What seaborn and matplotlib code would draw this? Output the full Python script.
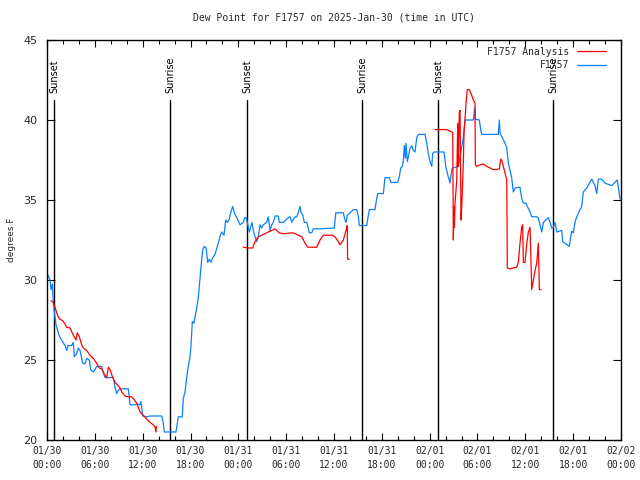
import numpy as np
import pandas as pd
import seaborn as sns
import matplotlib.pyplot as plt
from matplotlib.lines import Line2D
from matplotlib.ticker import MultipleLocator

# Hours since 2025-01-30 00:00 UTC and dew point (deg F)
obs_hours = [0.13, 0.38, 0.50, 0.66, 0.79, 0.97, 1.13, 1.42, 1.63, 2.26, 2.47, 2.63, 3.10, 3.30, 3.42,
             3.73, 3.93, 4.14, 4.48, 4.77, 4.98, 5.31, 5.48, 5.81, 6.02, 6.23, 6.86, 7.06, 7.28, 8.32,
             8.53, 8.74, 8.94, 9.16, 10.20, 10.41, 11.04, 11.25, 11.67, 11.79, 12.00, 12.51, 12.92, 14.39,
             14.59, 14.71, 16.18, 16.47, 16.97, 17.10, 17.31, 17.52, 17.72, 17.94, 18.06, 18.23, 18.44,
             18.57, 18.78, 18.98, 19.19, 19.32, 19.53, 19.73, 19.95, 20.16, 20.36, 20.57, 20.79, 21.07,
             21.49, 21.70, 21.91, 22.20, 22.42, 22.62, 22.83, 23.04, 23.29, 23.50, 23.80, 24.21, 24.62,
             24.80, 24.96, 25.13, 25.38, 25.72, 25.88, 26.09, 26.31, 26.51, 26.72, 26.93, 27.13, 27.56,
             27.76, 27.97, 28.19, 28.39, 28.60, 29.01, 29.14, 29.44, 29.64, 30.27, 30.48, 30.70, 31.11,
             31.32, 31.52, 31.74, 31.86, 32.08, 32.28, 32.58, 32.78, 32.90, 33.20, 33.41, 34.25, 36.04,
             36.22, 37.17, 37.38, 37.51, 37.67, 38.01, 38.42, 38.85, 39.05, 39.18, 40.10, 40.30, 40.43,
             41.14, 41.36, 41.48, 42.19, 42.40, 42.94, 43.15, 43.99, 44.19, 44.37, 44.57, 44.69, 44.82,
             44.95, 45.03, 45.20, 45.54, 45.75, 45.95, 46.16, 46.38, 46.58, 47.42, 47.63, 47.83, 48.04,
             48.26, 48.38, 48.54, 49.51, 49.80, 49.92, 50.05, 50.34, 50.55, 50.77, 50.89, 51.59, 52.02,
             52.22, 52.43, 53.48, 53.65, 53.73, 54.23, 54.40, 54.53, 54.94, 56.20, 56.61, 56.74, 56.82,
             57.45, 57.67, 57.87, 58.29, 58.49, 58.71, 59.33, 59.55, 59.75, 60.09, 60.25, 60.59, 60.80,
             61.43, 61.63, 62.06, 62.26, 62.88, 63.10, 63.31, 63.51, 63.72, 63.94, 64.56, 64.69, 65.52,
             65.69, 65.82, 66.02, 66.23, 66.45, 66.86, 67.07, 67.27, 67.70, 68.33, 68.74, 68.96, 69.16,
             69.58, 70.00, 70.84, 71.54, 71.88]
obs_dew = [30.3, 30.0, 29.4, 29.75, 28.6, 27.8, 27.2, 26.7, 26.4, 25.9, 25.6, 25.9, 25.9, 26.1, 25.2,
           25.4, 25.75, 25.6, 24.8, 24.75, 25.1, 25.0, 24.4, 24.25, 24.4, 24.6, 24.6, 24.2, 23.9, 23.9,
           23.3, 22.9, 23.1, 23.2, 23.2, 22.2, 22.2, 22.25, 22.2, 22.4, 21.5, 21.45, 21.5, 21.5,
           21.05, 20.5, 20.5, 21.45, 21.45, 22.6, 23.0, 23.9, 24.6, 25.2, 25.9, 27.4, 27.3,
           27.7, 28.25, 28.9, 30.1, 30.8, 31.9, 32.1, 32.0, 31.1, 31.3, 31.1, 31.4, 31.6,
           32.3, 32.7, 33.0, 32.8, 33.75, 33.6, 33.75, 34.2, 34.6, 34.2, 33.9, 33.45, 33.6,
           33.9, 33.9, 33.6, 33.0, 33.6, 33.1, 32.7, 32.4, 32.7, 33.45, 33.25, 33.45, 33.6,
           33.95, 33.1, 33.45, 33.6, 34.0, 34.0, 33.6, 33.6, 33.6, 33.9, 33.95, 33.6, 33.95,
           33.95, 34.2, 34.6, 34.25, 34.05, 33.6, 33.6, 33.25, 32.95, 32.95, 33.2, 33.2, 33.25,
           34.2, 34.2, 33.75, 33.6, 34.05, 34.2, 34.4, 34.4, 34.0, 33.4, 33.4, 34.0, 34.4,
           34.4, 35.1, 35.4, 35.4, 36.4, 36.4, 36.1, 36.1, 36.45, 37.0, 37.1, 37.4, 38.4,
           37.6, 38.55, 37.4, 38.25, 38.4, 38.1, 38.0, 38.9, 39.1, 39.1, 38.55, 37.9, 37.4,
           37.1, 37.9, 38.0, 38.0, 38.0, 37.5, 37.0, 36.45, 36.05, 36.9, 37.0, 37.1, 38.3,
           38.9, 40.0, 40.0, 40.75, 40.05, 40.0, 39.4, 39.1, 39.1, 39.1, 39.1, 40.0, 39.2,
           38.55, 38.25, 37.3, 36.4, 35.5, 35.75, 35.8, 35.1, 34.8, 34.8, 34.6, 34.25, 33.95,
           33.95, 33.9, 33.0, 33.6, 33.9, 33.6, 33.25, 33.3, 33.6, 33.0, 33.1, 32.4, 32.1,
           32.7, 33.05, 32.95, 33.6, 33.95, 34.4, 34.6, 35.5, 35.75, 36.3, 35.9, 35.4, 36.3,
           36.3, 36.05, 35.9, 36.25, 35.05]

# Analysis series, three separate runs
ana1_hours = [0.50, 0.79, 1.00, 1.22, 1.42, 1.63, 1.97, 2.26, 2.47, 2.89, 3.30, 3.64, 3.80, 4.05, 4.35,
              4.55, 4.98, 5.39, 5.81, 6.23, 6.56, 6.86, 7.06, 7.28, 7.49, 7.69, 7.90, 8.24, 8.53, 8.94,
              9.16, 9.37, 9.78, 10.20, 10.62, 10.91, 11.25, 11.45, 11.67, 12.08, 12.51, 12.92, 13.33,
              13.55, 13.67, 13.72]
ana1_dew = [28.7, 28.6, 28.3, 27.95, 27.7, 27.55, 27.45, 27.25, 27.05, 27.0, 26.55, 26.25, 26.7, 26.45, 25.95,
            25.75, 25.6, 25.3, 25.1, 24.8, 24.5, 24.45, 24.25, 24.05, 23.9, 24.55, 24.4, 23.9, 23.6, 23.4,
            23.25, 23.0, 22.75, 22.7, 22.7, 22.55, 22.3, 22.05, 21.75, 21.55, 21.3, 21.1, 20.95,
            20.8, 20.5, 20.85]
ana2_hours = [24.62, 25.25, 25.80, 26.09, 26.51, 26.93, 27.35, 27.76, 28.19, 28.60, 29.01, 29.44, 29.86,
              30.70, 31.11, 31.95, 32.37, 32.70, 33.83, 34.25, 34.66, 35.71, 36.13, 36.54, 36.75, 37.17,
              37.60, 37.67, 37.70, 37.92]
ana2_dew = [32.05, 32.0, 32.0, 32.4, 32.7, 32.8, 32.9, 33.0, 33.1, 33.2, 33.0, 32.9, 32.9,
            32.95, 32.9, 32.7, 32.3, 32.05, 32.05, 32.5, 32.8, 32.8, 32.7, 32.4, 32.2, 32.5,
            33.25, 33.4, 31.3, 31.3]
ana3_hours = [48.67, 50.14, 50.77, 50.89, 50.97, 51.06, 51.10, 51.18, 51.40, 51.52, 51.59, 51.72, 51.81,
              51.93, 52.02, 52.15, 52.22, 52.31, 52.43, 52.56, 52.72, 52.97, 53.27, 53.48, 53.69, 53.73,
              53.90, 54.32, 54.73, 55.16, 55.57, 55.99, 56.41, 56.74, 56.91, 57.04, 57.24, 57.45, 57.67,
              57.74, 58.08, 58.49, 58.92, 59.12, 59.33, 59.55, 59.67, 59.75, 59.96, 60.17, 60.38, 60.59,
              60.68, 60.80, 61.01, 61.22, 61.43, 61.63, 61.76, 61.97]
ana3_dew = [39.4, 39.4, 39.25, 39.2, 32.5, 34.6, 33.3, 34.8, 36.25, 39.8, 37.1, 40.5, 40.6,
            33.75, 34.6, 36.25, 37.3, 39.2, 40.0, 41.05, 41.9, 41.9, 41.55, 41.25, 41.05, 37.2,
            37.1, 37.2, 37.25, 37.1, 37.0, 36.9, 36.9, 36.95, 37.55, 37.5, 37.1, 36.7, 36.25,
            30.75, 30.7, 30.75, 30.8, 31.1, 32.3, 33.3, 33.45, 31.1, 31.1, 32.25, 33.0, 33.3,
            31.7, 29.4, 30.0, 30.6, 31.05, 32.3, 29.4, 29.4]

sun_hours = [0.88, 15.43, 25.09, 39.51, 49.05, 63.47]
sun_labels = ["Sunset", "Sunrise", "Sunset", "Sunrise", "Sunset", "Sunrise"]

tick_hours = list(range(0, 73, 6))
tick_labels = ["01/30\n00:00", "01/30\n06:00", "01/30\n12:00", "01/30\n18:00",
               "01/31\n00:00", "01/31\n06:00", "01/31\n12:00", "01/31\n18:00",
               "02/01\n00:00", "02/01\n06:00", "02/01\n12:00", "02/01\n18:00",
               "02/02\n00:00"]

obs = pd.DataFrame({"hours": obs_hours, "dew": obs_dew})
ana = pd.concat([
    pd.DataFrame({"hours": ana1_hours, "dew": ana1_dew, "seg": 1}),
    pd.DataFrame({"hours": ana2_hours, "dew": ana2_dew, "seg": 2}),
    pd.DataFrame({"hours": ana3_hours, "dew": ana3_dew, "seg": 3}),
])

sns.set_style("ticks")
plt.rcParams["font.family"] = ["DejaVu Sans"]

red = "#ff0000"
blue = "#0a80ff"
mono = "DejaVu Sans Mono"

fig = plt.figure(figsize=(6.4, 4.8), dpi=100)
ax = fig.add_axes([47 / 640, 40 / 480, 574 / 640, 400 / 480])

# sun events
for h, lab in zip(sun_hours, sun_labels):
    ax.plot([h, h], [20, 41.25], color="black", lw=1.0, zorder=1)
    ax.text(h, 41.7, lab, rotation=90, ha="center", va="bottom", fontsize=7, color="black")

sns.lineplot(data=ana, x="hours", y="dew", units="seg", estimator=None, sort=False,
             color=red, lw=0.9, ax=ax, zorder=3)
sns.lineplot(data=obs, x="hours", y="dew", estimator=None, sort=False,
             color=blue, lw=0.9, ax=ax, zorder=2)

ax.set_xlim(0, 72)
ax.set_ylim(20, 45)
ax.set_xticks(tick_hours)
ax.set_xticklabels(tick_labels, fontfamily=mono, fontsize=7)
for lbl in ax.get_xticklabels():
    lbl.set_linespacing(1.6)
ax.xaxis.set_minor_locator(MultipleLocator(2))
ax.set_yticks([20, 25, 30, 35, 40, 45])
ax.tick_params(axis="both", which="both", direction="in", top=True, right=True, color="black")
ax.tick_params(axis="x", which="major", length=5, width=0.8, pad=4)
ax.tick_params(axis="x", which="minor", length=3, width=0.8)
ax.tick_params(axis="y", which="major", length=6, width=0.8, pad=7, labelsize=8)
for s in ax.spines.values():
    s.set_color("black")
    s.set_linewidth(1.0)

ax.set_xlabel("")
ax.set_ylabel("degrees F", fontsize=6.5, labelpad=5)
ax.set_title("Dew Point for F1757 on 2025-Jan-30 (time in UTC)", fontfamily=mono, fontsize=7, pad=14)

handles = [Line2D([], [], color=red, lw=0.9), Line2D([], [], color=blue, lw=0.9)]
ax.legend(handles, ["F1757 Analysis", "F1757"], loc="upper right", frameon=False,
          markerfirst=False, prop={"family": mono, "size": 7}, handlelength=2.9,
          handletextpad=0.8, labelspacing=0.35, borderaxespad=0.3,
          bbox_to_anchor=(0.985, 1.0))

fig.savefig("out.png", dpi=100)
